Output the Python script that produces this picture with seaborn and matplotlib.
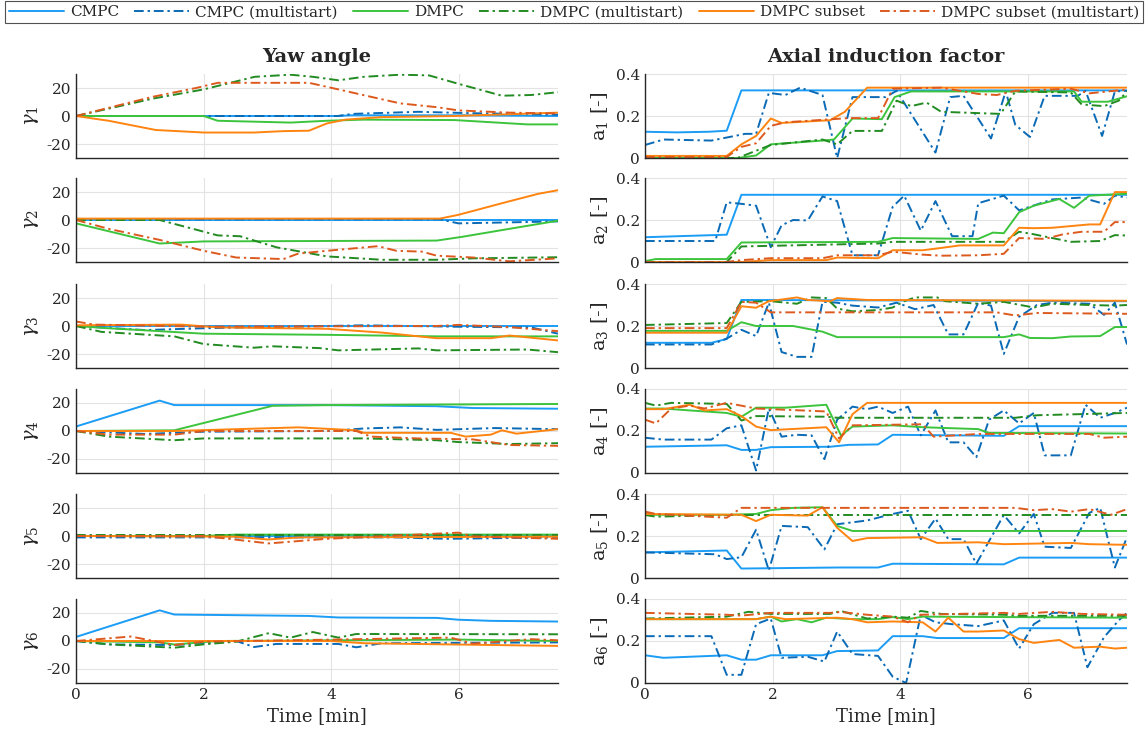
import numpy as np
import pandas as pd
import matplotlib
matplotlib.use('Agg')
import matplotlib.pyplot as plt
import seaborn as sns

# ---- data: (time [min], value) knots ----
methods = ['CMPC', 'CMPC (multistart)', 'DMPC', 'DMPC (multistart)',
           'DMPC subset', 'DMPC subset (multistart)']
colors = ['#1b9cf5', '#0a6ab5', '#3dc43d', '#228b22', '#ff8410', '#dd5a1e']

# yaw angle [deg]
yaw1_cmpc = [(0, 0), (4.1, 0), (4.3, 0.5), (6.0, 0.5), (7.55, 0)]
yaw1_cmpc_ms = [(0, 0), (4.1, 0), (4.33, 1.5), (5.36, 3), (6.2, 2), (7.55, 1)]
yaw1_dmpc = [(0, 0), (2.0, 0), (2.22, -3.4), (3.36, -4.7), (3.93, -3.4), (4.5, -2.6),
             (5.93, -2.9), (7.07, -6), (7.55, -6)]
yaw1_dmpc_ms = [(0, 0), (1.2, 12.4), (2.0, 19), (2.8, 28), (3.36, 29.5), (3.71, 28),
                (4.11, 25.5), (4.51, 28), (5.08, 29.5), (5.53, 29), (5.99, 23),
                (6.67, 14.5), (7.13, 15), (7.55, 17)]
yaw1_sub = [(0, 0), (0.51, -3.4), (1.25, -10), (2.0, -11.8), (2.79, -11.8), (3.25, -10.8),
            (3.65, -10.5), (3.93, -5.3), (4.22, -2.6), (4.79, -0.8), (5.93, 0), (7.55, 2.4)]
yaw1_sub_ms = [(0, 0), (1.2, 13.7), (1.88, 20), (2.22, 23.7), (3.65, 23.7), (4.11, 19),
               (4.62, 13.7), (5.08, 9), (5.65, 6.3), (5.99, 4), (6.79, 2.4), (7.55, 1.8)]

yaw2_cmpc = [(0, 0), (7.55, 0)]
yaw2_cmpc_ms = [(0, 0.5), (5.7, 0.5), (5.99, -2.4), (7.55, -1)]
yaw2_dmpc = [(0, -2.4), (1.31, -16.8), (2.0, -15.3), (5.65, -14.7), (6.05, -12),
             (6.79, -6.3), (7.55, -0.5)]
yaw2_dmpc_ms = [(0, 0), (1.31, 0), (2.22, -11), (2.57, -11.6), (3.14, -19.5), (3.93, -26),
                (4.79, -28.4), (5.65, -28.4), (6.22, -27.4), (7.55, -26.6)]
yaw2_sub = [(0, 1), (5.7, 1), (5.99, 3.7), (6.79, 13.4), (7.24, 18.7), (7.55, 21.3)]
yaw2_sub_ms = [(0, 0), (0.51, -6.3), (1.31, -14.2), (2.0, -22), (2.51, -26.8), (3.25, -27.9),
               (3.48, -24), (3.93, -22), (4.73, -18.7), (5.02, -22), (5.42, -22.6),
               (5.65, -25.5), (6.22, -26.8), (6.79, -29.5), (7.55, -27.4)]

yaw3_cmpc = [(0, 0), (7.55, 0)]
yaw3_cmpc_ms = [(0, 0), (1.08, -2.9), (2.0, -1.6), (3.93, 0), (4.51, 0.5), (5.93, -0.5),
                (7.13, -1), (7.55, -5.5)]
yaw3_dmpc = [(0, 0), (0.51, -1.6), (2.0, -5.5), (3.93, -6.3), (5.65, -7.4), (7.55, -7.4)]
yaw3_dmpc_ms = [(0, 0), (0.4, -4.2), (1.54, -7.4), (2.0, -12.9), (2.79, -15.5), (3.08, -14.5),
                (3.82, -15.8), (4.11, -17.4), (5.36, -16), (5.65, -17.4), (7.07, -16.8),
                (7.55, -18.7)]
yaw3_sub = [(0, 0.5), (1.65, 1), (2.22, -1), (3.93, -2), (4.79, -4.7), (5.65, -8.7),
            (6.5, -8.7), (6.79, -6.8), (7.55, -10.3)]
yaw3_sub_ms = [(0, 3.2), (0.29, 1), (2.0, -0.5), (5.65, 0), (5.99, 0.8), (6.79, -0.8),
               (7.55, -3.7)]

yaw4_cmpc = [(0, 3.2), (1.31, 21.7), (1.54, 18.5), (3.93, 18.5), (5.65, 17.7), (6.22, 16.4),
             (7.55, 15.9)]
yaw4_cmpc_ms = [(0, 0), (1.08, -2.1), (2.0, -0.5), (3.93, 0), (4.51, 1.8), (5.08, 2.6),
                (5.65, 0.8), (6.56, 2.1), (7.55, 1.3)]
yaw4_dmpc = [(0, 0), (1.54, 0.5), (3.08, 18), (3.93, 18.5), (7.55, 19.3)]
yaw4_dmpc_ms = [(0, 0), (0.51, -4), (1.54, -6.6), (2.0, -5.3), (4.51, -5.3), (5.65, -6.6),
                (5.99, -7.9), (6.79, -9.3), (7.55, -8.7)]
yaw4_sub = [(0, 0), (1.54, 0), (3.48, 2.6), (4.39, 0.5), (4.51, -1.3), (5.87, -1.3),
            (6.10, -4), (6.50, -2.6), (6.67, 0.5), (6.90, -1.9), (7.55, 1.3)]
yaw4_sub_ms = [(0, 0), (0.51, -2.6), (1.54, -2.6), (2.0, 0), (4.39, 0), (4.62, -4),
               (5.36, -5.3), (6.22, -6), (6.79, -10), (7.55, -10.6)]

yaw5_cmpc = [(0, 0), (7.55, 0)]
yaw5_cmpc_ms = [(0, -1), (5.0, -1), (5.8, -2), (7.55, -1)]
yaw5_dmpc = [(0, 0), (2.0, 0), (2.5, 1), (7.55, 1)]
yaw5_dmpc_ms = [(0, 0.5), (7.55, 0.5)]
yaw5_sub = [(0, 0), (2.5, -0.5), (3.0, -2.5), (3.5, -1), (7.55, -0.5)]
yaw5_sub_ms = [(0, 0), (2.0, 0), (3.02, -5.3), (3.93, -2), (5.99, 2.4), (6.22, -0.3),
               (7.55, -2)]

yaw6_cmpc = [(0, 2.9), (1.31, 21.9), (1.54, 18.9), (3.65, 17.9), (4.11, 16.8), (5.65, 16.5),
             (5.99, 15.2), (6.5, 14.4), (7.55, 13.9)]
yaw6_cmpc_ms = [(0, 0), (0.51, -2.4), (1.54, -2.9), (2.51, 0), (2.79, -4.3), (3.14, -2.1),
                (4.11, -2.1), (4.39, -4.5), (4.79, -1.6), (7.55, -1)]
yaw6_dmpc = [(0, 0), (1.31, -1), (1.54, -2.5), (2.22, 0), (4.0, 0.5), (6.0, 1), (7.55, 0)]
yaw6_dmpc_ms = [(0, 0), (0.51, -2.4), (1.54, -4.8), (2.0, -2.4), (2.51, -0.5), (3.02, 5.6),
                (3.36, 2.4), (3.71, 6.4), (4.11, 2.4), (4.39, 5), (7.55, 4.8)]
yaw6_sub = [(0, 0), (4.0, 0), (4.51, -1.6), (7.55, -3.5)]
yaw6_sub_ms = [(0, 0), (0.86, 3.2), (1.54, -2.9), (2.0, -0.5), (5.87, 2.4), (6.22, -1.9),
               (7.13, 1.3), (7.55, 0.5)]

# axial induction factor [-]
a1_cmpc = [(0, 0.125), (0.5, 0.122), (1.0, 0.125), (1.28, 0.13), (1.51, 0.322), (7.55, 0.322)]
a1_cmpc_ms = [(0, 0.062), (0.29, 0.088), (1.04, 0.083), (1.57, 0.115), (1.74, 0.115),
              (1.94, 0.31), (2.20, 0.30), (2.43, 0.335), (2.78, 0.30), (3.01, 0.0),
              (3.25, 0.29), (3.77, 0.29), (3.94, 0.32), (4.55, 0.026), (4.78, 0.29),
              (4.99, 0.296), (5.42, 0.093), (5.65, 0.317), (5.80, 0.158), (6.03, 0.10),
              (6.26, 0.296), (6.78, 0.296), (6.90, 0.32), (7.16, 0.105), (7.36, 0.317),
              (7.55, 0.32)]
a1_dmpc = [(0, 0), (1.45, 0), (1.74, 0.012), (1.97, 0.065), (2.78, 0.083), (2.96, 0.088),
           (3.25, 0.188), (3.71, 0.185), (3.91, 0.29), (4.17, 0.317), (6.72, 0.317),
           (6.84, 0.268), (7.25, 0.268), (7.55, 0.294)]
a1_dmpc_ms = [(0, 0), (1.45, 0), (1.97, 0.062), (2.78, 0.088), (3.01, 0.065), (3.25, 0.129),
              (3.71, 0.129), (3.94, 0.273), (4.17, 0.247), (4.41, 0.264), (4.64, 0.22),
              (5.57, 0.21), (5.80, 0.317), (6.67, 0.312), (6.84, 0.255), (7.19, 0.247),
              (7.42, 0.273), (7.55, 0.317)]
a1_sub = [(0, 0.01), (1.28, 0.01), (1.51, 0.065), (1.74, 0.105), (1.97, 0.188), (2.14, 0.167),
          (2.90, 0.18), (3.13, 0.22), (3.48, 0.335), (7.55, 0.335)]
a1_sub_ms = [(0, 0.005), (1.28, 0.005), (1.51, 0.053), (1.74, 0.07), (1.97, 0.153),
             (2.20, 0.17), (3.19, 0.19), (3.65, 0.19), (3.88, 0.33), (4.64, 0.335),
             (5.22, 0.305), (5.51, 0.30), (5.80, 0.32), (6.67, 0.33), (6.96, 0.308),
             (7.55, 0.326)]

a2_cmpc = [(0, 0.118), (1.28, 0.13), (1.51, 0.32), (7.55, 0.32)]
a2_cmpc_ms = [(0, 0.1), (1.10, 0.1), (1.28, 0.284), (1.51, 0.277), (1.74, 0.268), (1.97, 0.07),
              (2.14, 0.175), (2.32, 0.2), (2.55, 0.198), (2.78, 0.312), (3.01, 0.29),
              (3.25, 0.032), (3.65, 0.032), (3.88, 0.263), (4.06, 0.316), (4.32, 0.149),
              (4.55, 0.29), (4.81, 0.123), (5.13, 0.123), (5.22, 0.28), (5.62, 0.316),
              (5.86, 0.246), (6.38, 0.298), (6.84, 0.307), (7.19, 0.277), (7.36, 0.316),
              (7.55, 0.307)]
a2_dmpc = [(0, 0.004), (0.17, 0.014), (1.28, 0.014), (1.51, 0.093), (3.65, 0.096),
           (3.88, 0.114), (5.22, 0.11), (5.45, 0.14), (5.62, 0.137), (5.86, 0.237),
           (6.09, 0.268), (6.49, 0.3), (6.72, 0.258), (6.96, 0.316), (7.55, 0.325)]
a2_dmpc_ms = [(0, 0), (1.28, 0), (1.51, 0.074), (3.65, 0.088), (3.88, 0.096), (5.62, 0.096),
              (5.86, 0.144), (6.09, 0.132), (6.38, 0.114), (6.67, 0.096), (7.13, 0.1),
              (7.36, 0.128), (7.55, 0.126)]
a2_sub = [(0, 0), (1.51, 0), (1.97, 0.009), (2.84, 0.009), (3.01, 0.021), (3.65, 0.018),
          (3.88, 0.056), (4.35, 0.056), (4.64, 0.067), (4.93, 0.079), (5.62, 0.079),
          (5.86, 0.163), (6.09, 0.161), (6.38, 0.163), (6.96, 0.179), (7.13, 0.179),
          (7.36, 0.333), (7.55, 0.333)]
a2_sub_ms = [(0, 0), (1.28, 0), (1.51, 0.009), (1.97, 0.018), (2.78, 0.018), (3.01, 0.032),
             (3.65, 0.032), (3.88, 0.049), (4.35, 0.035), (4.64, 0.03), (5.22, 0.032),
             (5.62, 0.039), (5.86, 0.114), (6.26, 0.11), (6.55, 0.132), (6.84, 0.144),
             (7.19, 0.144), (7.36, 0.19), (7.55, 0.19)]

a3_cmpc = [(0, 0.12), (1.04, 0.12), (1.28, 0.138), (1.51, 0.324), (7.55, 0.318)]
a3_cmpc_ms = [(0, 0.112), (1.04, 0.112), (1.28, 0.14), (1.51, 0.182), (1.74, 0.152),
              (1.94, 0.311), (2.14, 0.076), (2.38, 0.053), (2.61, 0.053), (2.78, 0.315),
              (3.01, 0.311), (3.25, 0.297), (3.65, 0.288), (3.94, 0.311), (4.23, 0.28),
              (4.52, 0.3), (4.75, 0.16), (4.99, 0.16), (5.22, 0.311), (5.42, 0.297),
              (5.62, 0.067), (5.86, 0.244), (6.14, 0.3), (6.38, 0.311), (6.96, 0.306),
              (7.19, 0.253), (7.36, 0.311), (7.55, 0.112)]
a3_dmpc = [(0, 0.177), (1.28, 0.177), (1.51, 0.218), (1.74, 0.2), (2.32, 0.2), (2.78, 0.173),
           (3.01, 0.147), (5.62, 0.147), (5.86, 0.16), (6.03, 0.143), (6.38, 0.142),
           (6.67, 0.15), (7.13, 0.152), (7.36, 0.195), (7.55, 0.195)]
a3_dmpc_ms = [(0, 0.205), (1.28, 0.214), (1.51, 0.315), (1.97, 0.318), (2.38, 0.306),
              (2.61, 0.336), (2.84, 0.333), (3.01, 0.283), (3.25, 0.27), (3.65, 0.276),
              (3.88, 0.288), (4.06, 0.318), (4.23, 0.336), (4.58, 0.336), (4.70, 0.318),
              (5.22, 0.306), (5.62, 0.315), (6.09, 0.288), (6.38, 0.306), (6.96, 0.3),
              (7.36, 0.297), (7.55, 0.3)]
a3_sub = [(0, 0.168), (1.28, 0.168), (1.51, 0.294), (1.74, 0.287), (1.94, 0.318),
          (2.38, 0.336), (2.55, 0.324), (2.90, 0.318), (3.01, 0.333), (3.48, 0.324),
          (7.55, 0.32)]
a3_sub_ms = [(0, 0.19), (1.28, 0.19), (1.51, 0.315), (1.74, 0.311), (1.97, 0.265),
             (5.51, 0.265), (5.80, 0.25), (6.14, 0.262), (7.55, 0.258)]

a4_cmpc = [(0, 0.125), (1.28, 0.132), (1.51, 0.11), (1.74, 0.11), (1.97, 0.123), (2.90, 0.125),
           (3.19, 0.134), (3.65, 0.136), (3.88, 0.182), (5.62, 0.177), (5.86, 0.223),
           (7.55, 0.223)]
a4_cmpc_ms = [(0, 0.168), (0.29, 0.159), (1.04, 0.159), (1.28, 0.213), (1.51, 0.227),
              (1.74, 0.012), (1.94, 0.307), (2.14, 0.173), (2.38, 0.182), (2.61, 0.179),
              (2.81, 0.066), (3.01, 0.254), (3.25, 0.316), (3.48, 0.304), (3.65, 0.316),
              (3.88, 0.286), (4.12, 0.316), (4.32, 0.179), (4.55, 0.298), (4.75, 0.146),
              (4.99, 0.146), (5.19, 0.075), (5.39, 0.254), (5.62, 0.298), (5.86, 0.236),
              (6.09, 0.286), (6.26, 0.084), (6.67, 0.084), (6.90, 0.325), (7.13, 0.263),
              (7.36, 0.286), (7.55, 0.311)]
a4_dmpc = [(0, 0.307), (0.29, 0.307), (0.70, 0.298), (1.28, 0.286), (1.51, 0.268),
           (1.74, 0.311), (2.20, 0.311), (2.84, 0.325), (3.07, 0.179), (3.25, 0.221),
           (3.88, 0.227), (4.35, 0.218), (5.22, 0.209), (5.39, 0.191), (7.55, 0.188)]
a4_dmpc_ms = [(0, 0.334), (0.17, 0.321), (0.41, 0.334), (1.28, 0.329), (1.51, 0.25),
              (1.74, 0.271), (2.84, 0.268), (3.01, 0.263), (5.80, 0.263), (6.14, 0.275),
              (7.55, 0.286)]
a4_sub = [(0, 0.304), (0.29, 0.304), (0.70, 0.325), (0.93, 0.298), (1.28, 0.304),
          (1.51, 0.271), (1.74, 0.221), (1.97, 0.204), (2.84, 0.218), (3.04, 0.146),
          (3.25, 0.28), (3.48, 0.334), (7.55, 0.334)]
a4_sub_ms = [(0, 0.254), (0.17, 0.236), (0.41, 0.307), (0.70, 0.321), (0.93, 0.307),
             (1.28, 0.334), (1.74, 0.307), (2.84, 0.293), (3.04, 0.164), (3.25, 0.227),
             (4.35, 0.232), (4.52, 0.173), (5.22, 0.186), (6.96, 0.186), (7.19, 0.168),
             (7.55, 0.173)]

a5_cmpc = [(0, 0.122), (1.28, 0.131), (1.51, 0.045), (3.01, 0.05), (3.65, 0.05), (3.88, 0.068),
           (5.62, 0.065), (5.86, 0.097), (7.55, 0.097)]
a5_cmpc_ms = [(0, 0.122), (1.10, 0.113), (1.28, 0.09), (1.51, 0.099), (1.74, 0.23),
              (1.94, 0.036), (2.14, 0.248), (2.55, 0.242), (2.81, 0.136), (3.01, 0.256),
              (3.48, 0.274), (3.88, 0.305), (4.12, 0.32), (4.32, 0.185), (4.55, 0.283),
              (4.75, 0.185), (4.99, 0.185), (5.19, 0.068), (5.62, 0.3), (5.86, 0.212),
              (6.09, 0.305), (6.26, 0.149), (6.67, 0.143), (6.96, 0.31), (7.13, 0.334),
              (7.36, 0.05), (7.55, 0.194)]
a5_dmpc = [(0, 0.301), (1.28, 0.301), (1.74, 0.305), (1.97, 0.323), (2.32, 0.334),
           (2.78, 0.337), (3.01, 0.248), (3.25, 0.224), (7.55, 0.224)]
a5_dmpc_ms = [(0, 0.3), (0.17, 0.292), (1.28, 0.3), (7.55, 0.3)]
a5_sub = [(0, 0.305), (1.51, 0.301), (1.74, 0.271), (1.97, 0.301), (2.55, 0.297),
          (2.78, 0.337), (3.01, 0.239), (3.25, 0.176), (3.48, 0.19), (4.35, 0.194),
          (4.58, 0.167), (5.22, 0.17), (5.62, 0.161), (6.67, 0.167), (6.96, 0.161),
          (7.55, 0.158)]
a5_sub_ms = [(0, 0.316), (0.17, 0.305), (1.28, 0.287), (1.51, 0.334), (5.80, 0.334),
             (6.09, 0.323), (6.38, 0.328), (6.67, 0.316), (6.96, 0.328), (7.30, 0.301),
             (7.55, 0.328)]

a6_cmpc = [(0, 0.132), (0.29, 0.12), (1.28, 0.132), (1.51, 0.111), (1.74, 0.111),
           (1.97, 0.132), (2.78, 0.132), (3.01, 0.152), (3.65, 0.155), (3.88, 0.223),
           (4.35, 0.223), (4.58, 0.214), (5.62, 0.214), (5.86, 0.261), (7.55, 0.261)]
a6_cmpc_ms = [(0, 0.223), (1.04, 0.223), (1.28, 0.039), (1.51, 0.039), (1.74, 0.28),
              (1.97, 0.307), (2.14, 0.12), (2.55, 0.125), (2.81, 0.102), (3.01, 0.245),
              (3.25, 0.138), (3.65, 0.129), (3.88, 0.03), (4.09, 0.0), (4.32, 0.325),
              (4.55, 0.289), (4.81, 0.28), (5.22, 0.271), (5.62, 0.298), (5.86, 0.164),
              (6.09, 0.28), (6.38, 0.334), (6.72, 0.334), (6.93, 0.075), (7.19, 0.218),
              (7.42, 0.298), (7.55, 0.334)]
a6_dmpc = [(0, 0.304), (1.74, 0.304), (1.97, 0.316), (2.14, 0.293), (2.38, 0.304),
           (2.61, 0.289), (2.84, 0.311), (3.25, 0.304), (3.65, 0.304), (3.88, 0.314),
           (4.12, 0.304), (4.35, 0.316), (7.55, 0.311)]
a6_dmpc_ms = [(0, 0.307), (1.28, 0.316), (1.62, 0.339), (1.97, 0.329), (2.90, 0.329),
              (3.07, 0.343), (3.48, 0.307), (3.88, 0.316), (4.12, 0.311), (4.32, 0.343),
              (4.64, 0.329), (5.62, 0.325), (5.86, 0.32), (7.55, 0.32)]
a6_sub = [(0, 0.304), (1.74, 0.304), (1.97, 0.316), (2.20, 0.304), (3.01, 0.311),
          (3.25, 0.304), (3.48, 0.289), (3.88, 0.293), (4.35, 0.289), (4.55, 0.245),
          (4.75, 0.311), (4.99, 0.245), (5.22, 0.245), (5.62, 0.25), (5.86, 0.209),
          (6.09, 0.191), (6.49, 0.205), (6.72, 0.168), (7.13, 0.173), (7.36, 0.164),
          (7.55, 0.168)]
a6_sub_ms = [(0, 0.334), (1.28, 0.325), (1.51, 0.321), (1.97, 0.334), (2.90, 0.334),
             (3.07, 0.338), (3.48, 0.325), (3.88, 0.316), (4.12, 0.289), (4.32, 0.325),
             (5.62, 0.334), (5.86, 0.329), (6.38, 0.339), (6.84, 0.329), (7.55, 0.325)]

yaw_panels = [
    [yaw1_cmpc, yaw1_cmpc_ms, yaw1_dmpc, yaw1_dmpc_ms, yaw1_sub, yaw1_sub_ms],
    [yaw2_cmpc, yaw2_cmpc_ms, yaw2_dmpc, yaw2_dmpc_ms, yaw2_sub, yaw2_sub_ms],
    [yaw3_cmpc, yaw3_cmpc_ms, yaw3_dmpc, yaw3_dmpc_ms, yaw3_sub, yaw3_sub_ms],
    [yaw4_cmpc, yaw4_cmpc_ms, yaw4_dmpc, yaw4_dmpc_ms, yaw4_sub, yaw4_sub_ms],
    [yaw5_cmpc, yaw5_cmpc_ms, yaw5_dmpc, yaw5_dmpc_ms, yaw5_sub, yaw5_sub_ms],
    [yaw6_cmpc, yaw6_cmpc_ms, yaw6_dmpc, yaw6_dmpc_ms, yaw6_sub, yaw6_sub_ms],
]
axial_panels = [
    [a1_cmpc, a1_cmpc_ms, a1_dmpc, a1_dmpc_ms, a1_sub, a1_sub_ms],
    [a2_cmpc, a2_cmpc_ms, a2_dmpc, a2_dmpc_ms, a2_sub, a2_sub_ms],
    [a3_cmpc, a3_cmpc_ms, a3_dmpc, a3_dmpc_ms, a3_sub, a3_sub_ms],
    [a4_cmpc, a4_cmpc_ms, a4_dmpc, a4_dmpc_ms, a4_sub, a4_sub_ms],
    [a5_cmpc, a5_cmpc_ms, a5_dmpc, a5_dmpc_ms, a5_sub, a5_sub_ms],
    [a6_cmpc, a6_cmpc_ms, a6_dmpc, a6_dmpc_ms, a6_sub, a6_sub_ms],
]

T_END = 7.55

sns.set_theme(style='whitegrid')
plt.rcParams['font.family'] = ['DejaVu Serif']
plt.rcParams['mathtext.fontset'] = 'dejavuserif'
plt.rcParams['axes.unicode_minus'] = False

palette = dict(zip(methods, colors))
dashes = {m: ('' if 'multistart' not in m else (5, 2, 1.2, 2)) for m in methods}


def to_frame(series_list):
    rows = []
    for name, pts in zip(methods, series_list):
        for t, v in pts:
            rows.append((name, t, v))
    return pd.DataFrame(rows, columns=['method', 'time', 'value'])


W, H = 1148, 736
fig = plt.figure(figsize=(W / 100, H / 100), dpi=100)

row_tops = [74, 178, 284, 389, 494, 599]
row_h = 84
cols = [(76, 482), (645, 482)]

handles, labels = None, None
for r in range(6):
    for c, panels in enumerate([yaw_panels, axial_panels]):
        x0, w = cols[c]
        ax = fig.add_axes([x0 / W, 1 - (row_tops[r] + row_h) / H, w / W, row_h / H])
        df = to_frame(panels[r])
        first = (r == 0 and c == 0)
        sns.lineplot(data=df, x='time', y='value', hue='method', style='method',
                     hue_order=methods, style_order=methods, palette=palette,
                     dashes=dashes, estimator=None, sort=False, linewidth=1.4,
                     legend='full' if first else False, ax=ax)
        if first:
            handles, labels = ax.get_legend_handles_labels()
            ax.get_legend().remove()

        ax.set_xlim(0, T_END)
        ax.set_xticks([0, 2, 4, 6])
        if c == 0:
            ax.set_ylim(-30, 30)
            ax.set_yticks([-20, 0, 20])
            ax.set_ylabel(r'$\gamma_{%d}$' % (r + 1), fontsize=14, labelpad=4)
        else:
            ax.set_ylim(0, 0.4)
            ax.set_yticks([0, 0.2, 0.4])
            ax.set_yticklabels(['0', '0.2', '0.4'])
            ax.set_ylabel(r'$\mathrm{a}_{%d}$ [-]' % (r + 1), fontsize=14, labelpad=4)

        if r == 5:
            ax.set_xlabel('Time [min]', fontsize=13)
        else:
            ax.set_xlabel('')
            ax.set_xticklabels([])

        ax.grid(True, color='#e3e3e3', linewidth=0.8)
        ax.tick_params(axis='both', labelsize=11, length=3, direction='in', colors='#262626')
        sns.despine(ax=ax)
        for sp in ['left', 'bottom']:
            ax.spines[sp].set_color('#262626')
            ax.spines[sp].set_linewidth(1.0)

fig.text((76 + 241) / W, 1 - 57 / H, 'Yaw angle', ha='center', va='center',
         fontsize=14, fontweight='bold')
fig.text((645 + 241) / W, 1 - 57 / H, 'Axial induction factor', ha='center', va='center',
         fontsize=14, fontweight='bold')

leg = fig.legend(handles, labels, loc='lower left', ncol=6, mode='expand',
                 bbox_to_anchor=(5 / W, 1 - 23 / H, 1138 / W, 22 / H),
                 frameon=True, fancybox=False, fontsize=11, handlelength=3.6,
                 borderpad=0.25, handletextpad=0.4, borderaxespad=0)
leg.get_frame().set_edgecolor('#262626')
leg.get_frame().set_linewidth(0.8)

fig.savefig('out.png', dpi=100)
